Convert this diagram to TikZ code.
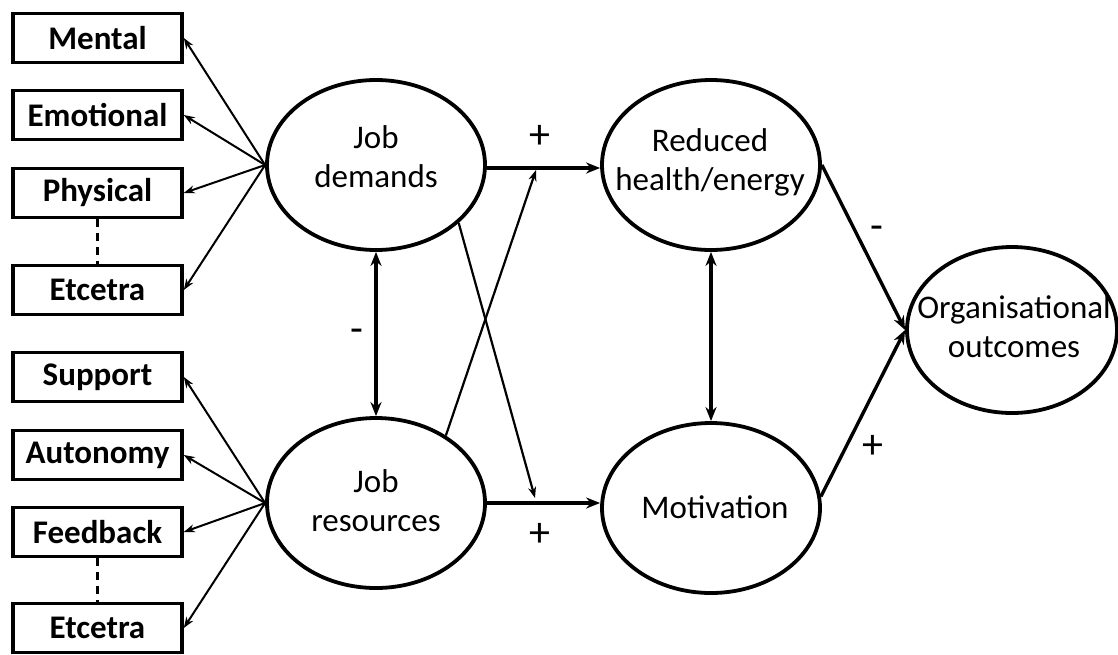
\documentclass[tikz,border=0pt]{standalone}
\usepackage{fontspec}
\setmainfont{Carlito}
\usetikzlibrary{shapes.geometric,arrows.meta}
\begin{document}
\begin{tikzpicture}[x=1pt,y=-1pt,
  dimbox/.style={draw,line width=3.6pt,rectangle,minimum width=169pt,minimum height=49pt,inner sep=0pt,font=\fontsize{33}{36}\selectfont\bfseries},
  construct/.style={draw,line width=3.8pt,ellipse,minimum width=218pt,minimum height=170pt,inner sep=0pt},
  ctext/.style={align=center,inner sep=0pt,font=\fontsize{33}{39}\selectfont},
  thin/.style={line width=2pt,-{Stealth[length=11pt,width=8pt]}},
  thick/.style={line width=3.4pt,-{Stealth[length=14pt,width=11pt]}},
  thickboth/.style={line width=3.4pt,{Stealth[length=14pt,width=11pt]}-{Stealth[length=14pt,width=11pt]}},
  sign/.style={font=\fontsize{42}{42}\selectfont}]
\useasboundingbox (0,0) rectangle (1118,654);
% boxes
\node[dimbox] (mental) at (97.5,38) {Mental};
\node[dimbox] (emot) at (97.5,115) {Emotional};
\node[dimbox] (phys) at (97.5,193) {Physical};
\node[dimbox] (etc1) at (97.5,290) {Etcetra};
\node[dimbox] (supp) at (97.5,377) {Support};
\node[dimbox] (auto) at (97.5,455) {Autonomy};
\node[dimbox] (feed) at (97.5,532) {Feedback};
\node[dimbox] (etc2) at (97.5,628) {Etcetra};
\draw[line width=2.4pt,dash pattern=on 8pt off 6pt] (phys.south) -- (etc1.north);
\draw[line width=2.4pt,dash pattern=on 8pt off 6pt] (feed.south) -- (etc2.north);
% ellipses
\node[construct] (jd) at (376,165) {};
\node[construct] (jr) at (376,503) {};
\node[construct] (rh) at (711,165) {};
\node[construct] (mot) at (711,508) {};
\node[construct,minimum width=210pt,minimum height=166pt] (org) at (1012,330) {};
\node[ctext] (jdt) at (376,157) {Job\\demands};
\node[ctext] (jrt) at (376,501) {Job\\resources};
\node[ctext] (rht) at (710,162) {Reduced\\health/energy};
\node[ctext] (mott) at (715,507) {Motivation};
\node[ctext] (orgt) at (1014,327) {Organisational\\outcomes};
% left arrows
\foreach \b in {mental,emot,phys,etc1} \draw[thin] (jd.west) -- (\b.east);
\foreach \b in {supp,auto,feed,etc2} \draw[thin] (jr.west) -- (\b.east);
% main arrows
\draw[thick] (jd.east |- 0,168) -- (rh.west |- 0,168);
\draw[thick] (jr.east) -- (mot.west |- jr.east);
\coordinate (c1) at (536,170);
\coordinate (c2) at (535,498);
\draw[thin,line width=2.2pt] (jr.44) -- (c1);
\draw[thin,line width=2.2pt] (jd.-35) -- (c2);
\draw[thickboth] (jd.south) -- (jr.north);
\draw[thickboth] (rh.south) -- (mot.north);
\draw[thick] (rh.east) -- (org.west);
\draw[thick] (mot.6) -- (org.west);
% signs
\node[sign] (p1) at (540,137) {+};
\node[sign] (p2) at (540,535) {+};
\node[sign] (m1) at (357,336) {-};
\node[sign] (m2) at (877,233) {-};
\node[sign] (p3) at (873,447) {+};
\end{tikzpicture}
\end{document}
